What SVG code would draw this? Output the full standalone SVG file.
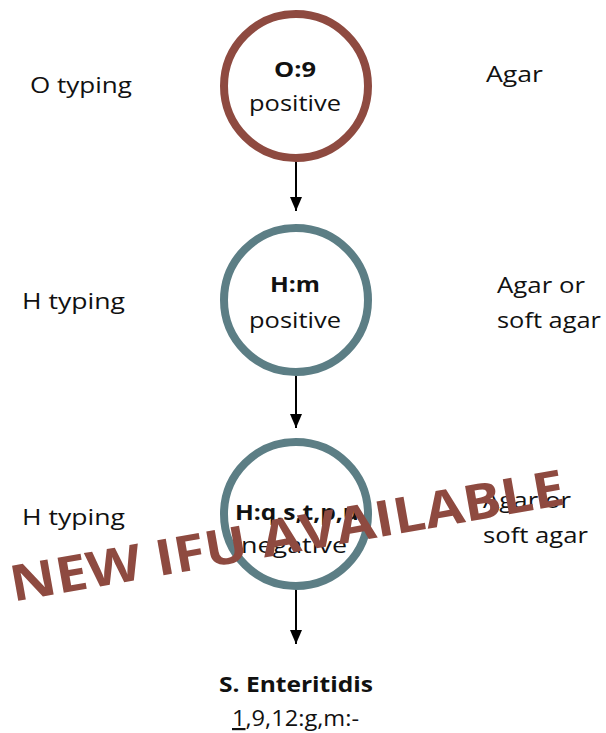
<svg xmlns="http://www.w3.org/2000/svg" width="606" height="733" viewBox="0 0 606 733">
<style>
.lbl{font-family:"Open Sans","Noto Sans",sans-serif;font-size:22px;fill:#111}
.b{font-weight:bold}
.c{text-anchor:middle}
.ring{fill:none;stroke-width:8}
.edge{stroke:#000;stroke-width:2;fill:none}
.wm{font-family:"Open Sans","Noto Sans",sans-serif;font-weight:bold;font-size:50px;fill:#8E4A40}
</style>
<defs>
<marker id="arr" viewBox="0 0 14 12" refX="14" refY="6" markerWidth="14" markerHeight="12" markerUnits="userSpaceOnUse" orient="auto">
<path d="M0,0 L14,6 L0,12 Z" fill="#000"/>
</marker>
</defs>
<rect width="606" height="733" fill="#fff"/>
<g id="side-labels">
<text class="lbl" x="30" y="93" textLength="102" lengthAdjust="spacingAndGlyphs">O typing</text>
<text class="lbl" x="486" y="82" textLength="57" lengthAdjust="spacingAndGlyphs">Agar</text>
<text class="lbl" x="22" y="309" textLength="103" lengthAdjust="spacingAndGlyphs">H typing</text>
<text class="lbl" x="497" y="293" textLength="88" lengthAdjust="spacingAndGlyphs">Agar or</text>
<text class="lbl" x="497" y="328" textLength="104" lengthAdjust="spacingAndGlyphs">soft agar</text>
<text class="lbl" x="22" y="525" textLength="103" lengthAdjust="spacingAndGlyphs">H typing</text>
<text class="lbl" x="483" y="508" textLength="88" lengthAdjust="spacingAndGlyphs">Agar or</text>
<text class="lbl" x="483" y="543" textLength="105" lengthAdjust="spacingAndGlyphs">soft agar</text>
</g>
<g id="connectors">
<line class="edge" x1="296" y1="161" x2="296" y2="211" marker-end="url(#arr)"/>
<line class="edge" x1="296" y1="375" x2="296" y2="428" marker-end="url(#arr)"/>
<line class="edge" x1="296" y1="589" x2="296" y2="644" marker-end="url(#arr)"/>
</g>
<g id="node-o9">
<circle cx="296" cy="86" r="72" fill="#fff"/>
<text class="lbl b" x="274" y="77" textLength="42" lengthAdjust="spacingAndGlyphs">O:9</text>
<text class="lbl" x="249" y="111" textLength="92" lengthAdjust="spacingAndGlyphs">positive</text>
<circle class="ring" cx="296" cy="86" r="72" stroke="#8E4A40"/>
</g>
<g id="node-hm">
<circle cx="296" cy="300" r="72" fill="#fff"/>
<text class="lbl b" x="270" y="292" textLength="50" lengthAdjust="spacingAndGlyphs">H:m</text>
<text class="lbl" x="249" y="328" textLength="92" lengthAdjust="spacingAndGlyphs">positive</text>
<circle class="ring" cx="296" cy="300" r="72" stroke="#5C7E85"/>
</g>
<g id="node-hq">
<circle cx="296" cy="514" r="72" fill="#fff"/>
<text class="lbl b" x="235" y="520" textLength="124" lengthAdjust="spacingAndGlyphs">H:q,s,t,p,u</text>
<text class="lbl" x="241" y="553" textLength="106" lengthAdjust="spacingAndGlyphs">negative</text>
<circle class="ring" cx="296" cy="514" r="72" stroke="#5C7E85"/>
</g>
<g id="result">
<text class="lbl b" x="219" y="692" textLength="154" lengthAdjust="spacingAndGlyphs">S. Enteritidis</text>
<text class="lbl" x="232" y="726" textLength="127" lengthAdjust="spacingAndGlyphs"><tspan text-decoration="underline">1</tspan>,9,12:g,m:-</text>
</g>
<g id="watermark">
<text class="wm c" x="290" y="553" transform="rotate(-10 290 553)" textLength="562" lengthAdjust="spacingAndGlyphs">NEW IFU AVAILABLE</text>
</g>
</svg>
